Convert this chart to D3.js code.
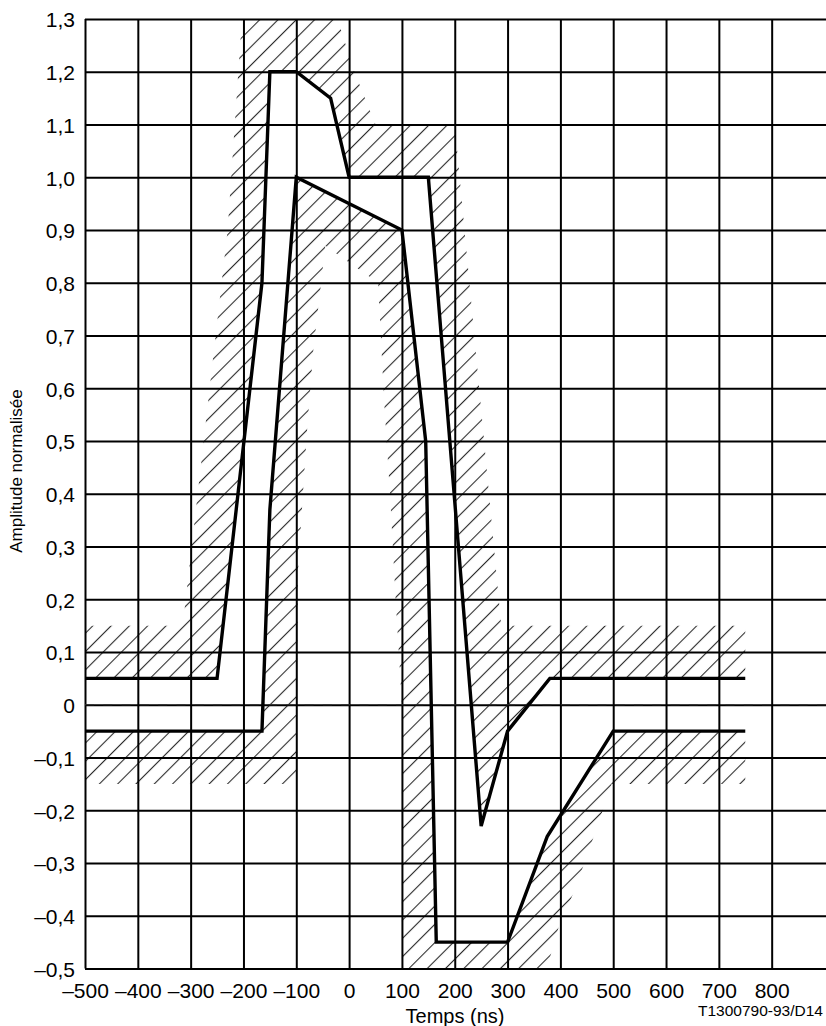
<!DOCTYPE html>
<html>
<head>
<meta charset="utf-8">
<script src="https://cdn.jsdelivr.net/npm/d3@7"></script>
<style>
    body { margin: 0; background: #fff; }
    svg { display: block; }
    text { font-family: "Liberation Sans", Arial, sans-serif; fill: #000; }
</style>
</head>
<body>
<svg id="chart" width="826" height="1026"></svg>
<script>
// --- Data ---
const xTicks = [-500, -400, -300, -200, -100, 0, 100, 200, 300, 400, 500, 600, 700, 800];
const yTicks = [-0.5, -0.4, -0.3, -0.2, -0.1, 0, 0.1, 0.2, 0.3, 0.4, 0.5, 0.6, 0.7, 0.8, 0.9, 1.0, 1.1, 1.2, 1.3];

// Mask limits: [time (ns), normalised amplitude]
const upperMask = [[-500, 0.05], [-250, 0.05], [-165, 0.8], [-150, 1.2], [-100, 1.2], [-35, 1.15],
    [0, 1.0], [150, 1.0], [250, -0.23], [300, -0.05], [380, 0.05], [750, 0.05]];
const lowerMask = [[-500, -0.05], [-165, -0.05], [-150, 0.37], [-100, 1.0], [100, 0.9], [145, 0.5],
    [165, -0.45], [300, -0.45], [375, -0.25], [500, -0.05], [750, -0.05]];

// Outer edge of each hatched (forbidden) zone, walked back from right to left
const upperHatchEdge = [[750, 0.15], [288, 0.15], [200, 1.1], [50, 1.1], [10, 1.2], [-22, 1.3],
    [-203, 1.3], [-230, 0.9], [-315, 0.15], [-500, 0.15]];
const lowerHatchEdge = [[750, -0.15], [497, -0.15], [463, -0.25], [425, -0.357], [400, -0.41],
    [360, -0.55], [100, -0.55], [100, 0.0], [88, 0.2], [78, 0.39], [66, 0.58], [55, 0.8],
    [-45, 0.87], [-68, 0.67], [-80, 0.515], [-97, 0.25], [-100, -0.15], [-500, -0.15]];

// --- Layout ---
const W = 826, H = 1026;
const plot = { left: 85, right: 824.5, top: 19, bottom: 968.5 };

const x = d3.scaleLinear().domain([-500, 900]).range([plot.left, plot.right]);
const y = d3.scaleLinear().domain([-0.5, 1.3]).range([plot.bottom, plot.top]);

const fmtX = t => (t < 0 ? "\u2013" : "") + Math.abs(t);
const fmtY = v => v === 0 ? "0" : (v < 0 ? "\u2013" : "") + Math.abs(v).toFixed(1).replace(".", ",");

const svg = d3.select("#chart");
const defs = svg.append("defs");

defs.append("clipPath").attr("id", "plot-clip")
    .append("rect")
    .attr("x", plot.left).attr("y", plot.top)
    .attr("width", W - plot.left).attr("height", plot.bottom - plot.top);

// diagonal hatch "/" : vertical lines rotated 45 degrees
const hatchGap = 12.94;
const pattern = defs.append("pattern")
    .attr("id", "hatch")
    .attr("patternUnits", "userSpaceOnUse")
    .attr("width", hatchGap).attr("height", hatchGap)
    .attr("patternTransform", "rotate(45)");
pattern.append("line")
    .attr("x1", 3.5).attr("x2", 3.5)
    .attr("y1", 0).attr("y2", hatchGap)
    .attr("stroke", "#2a2a2a").attr("stroke-width", 1.1);

const line = d3.line().x(d => x(d[0])).y(d => y(d[1]));

// --- Hatched zones ---
const zones = svg.append("g").attr("clip-path", "url(#plot-clip)");
[[upperMask, upperHatchEdge], [lowerMask, lowerHatchEdge]].forEach(([inner, outer]) => {
    zones.append("path")
        .attr("d", line(inner.concat(outer)) + "Z")
        .attr("fill", "url(#hatch)")
        .attr("stroke", "none");
});

// --- Grid / axes ---
const xAxisG = svg.append("g")
    .attr("transform", `translate(0, ${plot.bottom})`)
    .call(d3.axisBottom(x)
        .tickValues(xTicks)
        .tickSize(-(plot.bottom - plot.top))
        .tickPadding(14.5)
        .tickFormat(fmtX));

const yAxisG = svg.append("g")
    .attr("transform", `translate(${plot.left}, 0)`)
    .call(d3.axisLeft(y)
        .tickValues(yTicks)
        .tickSize(-(W - plot.left))
        .tickPadding(10)
        .tickFormat(fmtY));

[xAxisG, yAxisG].forEach(g => {
    g.attr("font-family", null).attr("font-size", null);
    g.select(".domain").remove();
    g.selectAll(".tick line").attr("stroke", "#000").attr("stroke-width", 2);
    g.selectAll(".tick text").style("font-size", "21px").attr("fill", "#000");
});
yAxisG.selectAll(".tick text").attr("dy", "0.38em");

// zero reference line
svg.append("line")
    .attr("x1", plot.left).attr("x2", W)
    .attr("y1", y(0)).attr("y2", y(0))
    .attr("stroke", "#333")
    .attr("stroke-width", 1.2)
    .attr("stroke-dasharray", "9,9.3");

// --- Mask curves ---
[upperMask, lowerMask].forEach(pts => {
    svg.append("path")
        .attr("d", line(pts))
        .attr("fill", "none")
        .attr("stroke", "#000")
        .attr("stroke-width", 3.4)
        .attr("stroke-linejoin", "miter");
});

// --- Labels ---
svg.append("text")
    .attr("x", 455).attr("y", 1023)
    .attr("text-anchor", "middle")
    .style("font-size", "20px")
    .text("Temps (ns)");

svg.append("text")
    .attr("x", 823).attr("y", 1016)
    .attr("text-anchor", "end")
    .style("font-size", "15.5px")
    .text("T1300790-93/D14");

svg.append("text")
    .attr("transform", "translate(21.5, 471) rotate(-90)")
    .attr("text-anchor", "middle")
    .style("font-size", "17px")
    .text("Amplitude normalisée");
</script>
</body>
</html>
